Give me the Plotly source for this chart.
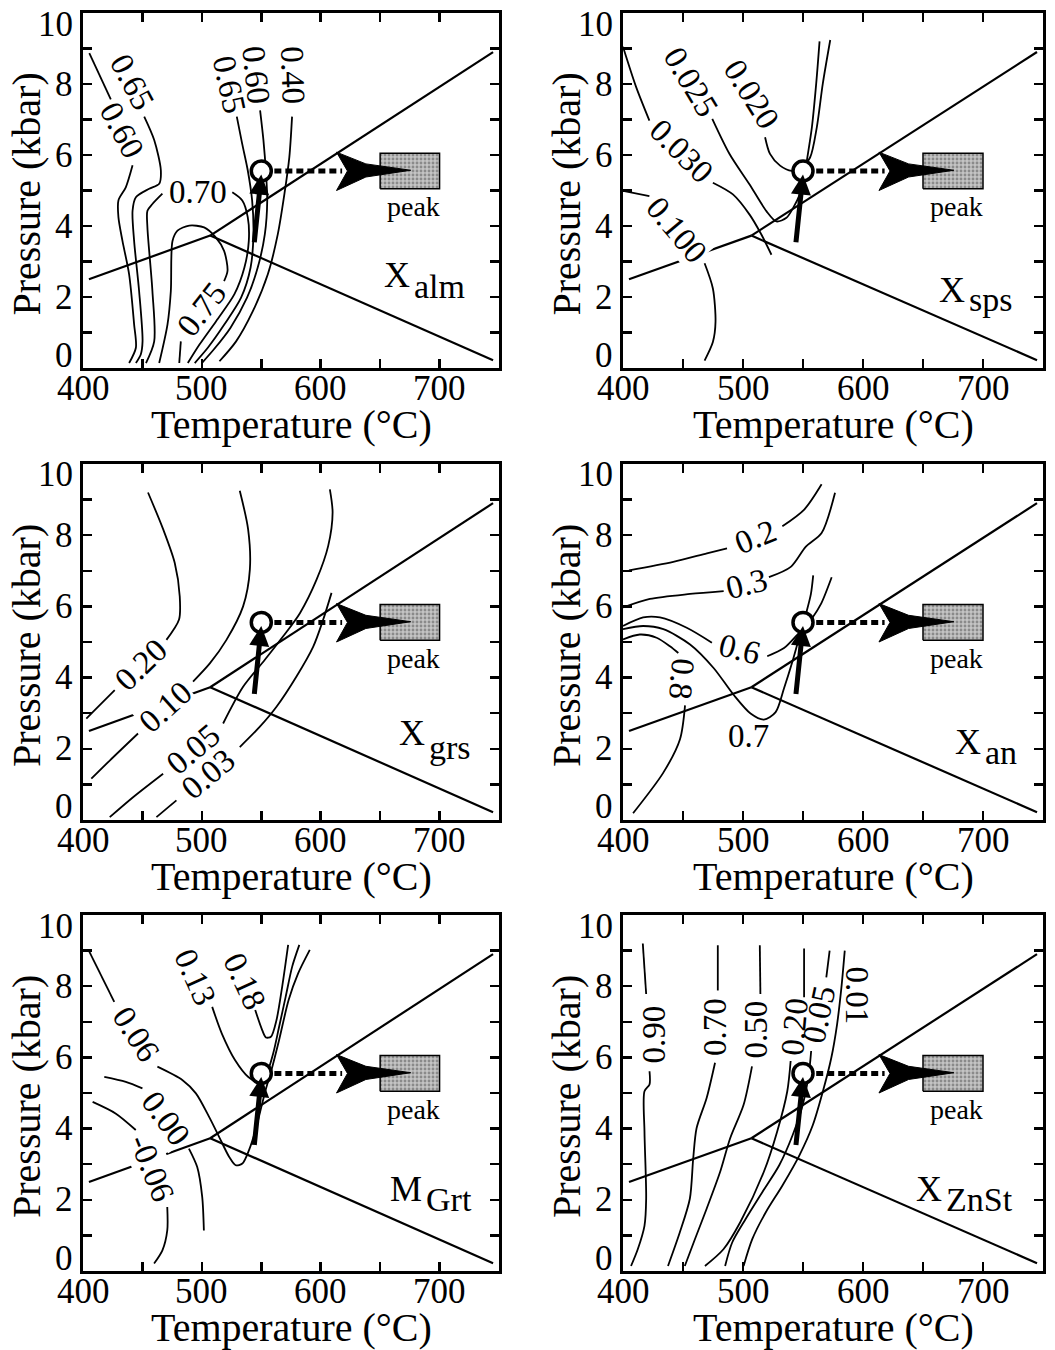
import plotly.graph_objects as go

FONT = "Liberation Serif"
W, H = 1055, 1350

# ---------------- shared reaction lines (T in degC, P in kbar) ----------------
rxn_low_t = [405, 507]
rxn_low_p = [2.5, 3.73]
rxn_up_t = [507, 745]
rxn_up_p = [3.73, 8.9]
rxn_down_t = [507, 745]
rxn_down_p = [3.73, 0.22]

# peak / path symbols
circle_t, circle_p = 550, 5.55
uparrow_tail = (544, 3.5)
uparrow_head = (550, 5.45)
dotted_t = [561, 618]
dotted_p = [5.55, 5.55]
head_t = [613.3, 638.0, 675.7, 638.0, 613.3, 622.5, 613.3]
head_p = [6.08, 5.75, 5.57, 5.38, 5.0, 5.55, 6.08]
peakbox_t = [650, 700, 700, 650, 650]
peakbox_p = [5.05, 5.05, 6.05, 6.05, 5.05]
peak_label = ("peak", 678, 4.55)

# ---------------- Panel 1: X_alm ----------------
alm_060a_t = [405.3, 423.4, None, 441.7, 436.0, 429.8, 429.8, 433.2, 438.8, 443.0, 444.5, 438.8]
alm_060a_p = [8.87, 7.57, None, 5.71, 5.09, 4.72, 4.25, 3.58, 2.64, 1.23, 0.57, 0.14]
alm_065a_t = [451.5, 459.9, 465.5, 464.1, 455.7, 444.5, 441.7, 443.0, 447.2, 450.1, 448.6, 444.5]
alm_065a_p = [7.08, 6.42, 5.57, 5.19, 5.05, 4.81, 4.43, 3.58, 2.17, 0.75, 0.38, 0.14]
alm_070_t = [453.0, 459.9, 458.4, 454.2, 454.2, 458.4, 466.8, None, 525.6, 534.0, 538.6, 539.5, 535.8, 527.4, 512.0, 498.0, 488.2]
alm_070_p = [0.14, 0.75, 2.17, 3.96, 4.43, 4.62, 4.91, None, 4.95, 4.72, 4.25, 3.58, 2.83, 2.08, 1.32, 0.66, 0.14]
alm_075_t = [464.1, 471.1, 473.9, 475.3, 479.5, 489.3, 501.9, 511.7, 518.7, 521.6, 518.7, None, 482.3, 481.0]
alm_075_p = [0.14, 1.23, 2.17, 3.58, 3.87, 4.01, 3.96, 3.68, 3.30, 2.74, 2.45, None, 0.75, 0.14]
alm_065b_t = [529.4, 533.9, 538.6, 542.3, 543.4, 541.0, 533.0, 519.0, 505.0, 494.0]
alm_065b_p = [7.08, 6.32, 5.57, 4.72, 3.77, 2.83, 1.98, 1.23, 0.57, 0.14]
alm_060b_t = [549.0, 551.8, 554.0, 555.0, 553.0, 547.0, 538.0, 524.0, 510.0, 500.0]
alm_060b_p = [7.26, 6.42, 5.47, 4.72, 3.77, 2.83, 1.98, 1.13, 0.52, 0.14]
alm_040_t = [575.9, 573.6, 569.5, 563.9, 555.5, 542.9, 528.8, 514.8]
alm_040_p = [7.08, 5.94, 4.91, 3.77, 2.64, 1.60, 0.75, 0.19]
alm_labels = [("0.60", 432.7, 6.70, 62, False), ("0.65", 441.7, 8.07, 62, False),
              ("0.70", 496.4, 4.95, 0, False), ("0.75", 500.0, 1.65, -52, False),
              ("0.65", 523.2, 7.97, 78, False), ("0.60", 545.6, 8.25, 84, False),
              ("0.40", 576.5, 8.25, 88, False)]

# ---------------- Panel 2: X_sps ----------------
sps_0100_t = [400.0, 422.0, None, 468.0, 474.9, 477.1, 474.9, 468.0]
sps_0100_p = [4.99, 4.84, None, 2.95, 2.24, 1.30, 0.73, 0.21]
sps_0030_t = [400.0, 410.9, 422.0, None, 474.9, 491.6, 505.5, 515.3, 523.7]
sps_0030_p = [9.05, 7.92, 6.97, None, 5.22, 4.89, 4.32, 3.76, 3.19]
sps_0025_t = [474.4, 488.8, 505.5, 519.5, 527.8, 536.2, 541.8, 547.3, 551.5, 553.2, 557.4, 561.0, 563.8]
sps_0025_p = [7.02, 6.03, 5.17, 4.42, 4.13, 4.23, 4.51, 4.89, 5.46, 5.84, 6.78, 8.01, 9.20]
sps_0020_t = [518.4, 522.5, 530.9, 540.6, 547.6, 555.9, 561.5, 566.5, 572.7]
sps_0020_p = [6.50, 6.03, 5.70, 5.55, 5.60, 5.93, 6.78, 8.01, 9.24]
sps_labels = [("0.030", 448.5, 6.10, 45, False), ("0.025", 456.8, 8.06, 59, False),
              ("0.020", 507.2, 7.73, 58, False), ("0.100", 445.0, 3.90, 50, True)]

# ---------------- Panel 3: X_grs ----------------
grs_020_t = [454.7, 467.4, 477.2, 481.4, 480.8, 470.2, None, 426.7, 408.4, 402.8]
grs_020_p = [9.20, 8.17, 7.22, 6.28, 5.63, 5.06, None, 3.65, 3.04, 2.85]
grs_010_t = [531.9, 538.9, 540.4, 534.7, 520.7, 506.7, 492.6, None, 446.3, 422.5, 407.0]
grs_010_p = [9.25, 8.17, 7.04, 6.00, 5.06, 4.40, 3.89, None, 2.43, 1.67, 1.16]
grs_005_t = [607.7, 610.0, 606.3, 596.5, 582.5, 568.4, 553.0, 534.7, 517.9, None, 467.4, 442.1, 422.5]
grs_005_p = [9.29, 8.64, 7.70, 6.75, 5.81, 5.16, 4.50, 3.74, 2.71, None, 1.30, 0.64, 0.08]
grs_003_t = [609.1, 602.1, 593.7, 579.6, 562.8, 548.8, 531.9, None, 478.6, 461.8]
grs_003_p = [6.38, 5.63, 4.87, 4.03, 3.18, 2.62, 2.05, None, 0.55, 0.08]
grs_labels = [("0.20", 448.5, 4.36, -44, False), ("0.10", 469.5, 3.16, -42, True),
              ("0.05", 492.7, 2.00, -40, False), ("0.03", 505.3, 1.30, -40, False)]

# ---------------- Panel 4: X_an ----------------
an_02_t = [405.0, 441.9, 469.9, 486.7, None, 532.8, 551.0, 565.5]
an_02_p = [7.01, 7.25, 7.49, 7.63, None, 8.25, 8.72, 9.43]
an_03_t = [400.0, 422.4, 455.9, 483.9, None, 521.6, 539.8, 552.4, 565.5, 576.7]
an_03_p = [5.97, 6.21, 6.35, 6.43, None, 6.82, 7.11, 7.68, 8.06, 9.19]
an_06_t = [400.0, 416.8, 430.8, 453.1, 474.1, None, 520.2, 534.2, 545.4, 551.0, 558.0, 565.0, 573.9]
an_06_p = [5.45, 5.69, 5.69, 5.40, 4.98, None, 4.60, 4.83, 5.21, 5.40, 5.69, 6.07, 6.82]
an_07_t = [400.0, 416.8, 433.6, 455.9, 475.5, 492.3, 506.3, 517.4, 527.2, 534.2, 541.2, 546.8, 552.4, 556.6, 558.5]
an_07_p = [5.36, 5.45, 5.36, 4.93, 4.27, 3.51, 2.99, 2.82, 3.03, 3.70, 4.45, 5.12, 5.78, 6.35, 6.87]
an_08_t = [400.0, 414.0, 428.0, 439.1, 446.1, None, 451.7, 447.5, 433.6, 408.4]
an_08_p = [5.07, 5.21, 5.12, 4.88, 4.69, None, 3.22, 2.27, 1.33, 0.19]
an_labels = [("0.2", 510.0, 7.94, -22, False), ("0.3", 502.8, 6.63, -14, False),
             ("0.6", 497.0, 4.79, 14, False), ("0.7", 504.9, 2.37, 0, False),
             ("0.8", 448.9, 3.96, 95, False)]

# ---------------- Panel 5: M_Grt ----------------
grt_006_t = [405.3, 426.3, None, 462.6, 483.8, 495.0, 506.1, 514.5, 522.9, 528.5, 534.1, 539.6, 545.2, 549.4, 553.6, 558.5, 565.0, 573.0, 581.0, 590.8]
grt_006_p = [8.97, 7.56, None, 5.74, 5.36, 4.99, 4.33, 3.77, 3.21, 2.97, 3.02, 3.39, 3.96, 4.52, 5.08, 5.64, 6.49, 7.61, 8.36, 9.02]
grt_013_t = [508.7, 516.8, 528.0, 539.1, 547.5, 554.5, 560.0, 565.0, 570.5, 576.0, 582.0]
grt_013_p = [7.42, 6.67, 5.92, 5.45, 5.31, 5.55, 6.11, 6.86, 7.70, 8.55, 9.16]
grt_018_t = [544.9, 550.3, 553.9, 558.1, 562.8, 567.6, 572.6]
grt_018_p = [7.33, 6.81, 6.56, 6.58, 7.05, 7.99, 9.16]
grt_000_t = [417.9, 436.0, 450.0, None, 489.1, 496.1, 500.3, 501.7]
grt_000_p = [5.45, 5.31, 5.13, None, 3.44, 2.92, 2.08, 1.14]
grt_m006_t = [408.1, 427.7, 444.4, None, 470.9, 470.9, 466.8, 459.8]
grt_m006_p = [4.75, 4.42, 3.96, None, 1.80, 1.14, 0.58, 0.21]
grt_labels = [("0.06", 444.5, 6.65, 57, False), ("0.00", 469.5, 4.29, 54, True),
              ("-0.06", 457.7, 2.88, 68, True), ("0.13", 494.7, 8.27, 66, False),
              ("0.18", 536.6, 8.13, 65, False)]

# ---------------- Panel 6: X_ZnSt ----------------
zn_090_t = [416.5, 419.3, None, 422.1, 422.1, 417.9, 417.9, 419.3, 417.9, 412.3, 406.7]
zn_090_p = [9.20, 7.78, None, 5.61, 5.24, 5.05, 3.92, 2.03, 1.27, 0.61, 0.14]
zn_070_t = [479.0, 479.0, None, 476.7, 469.7, 461.3, 458.5, 455.7, 447.3, 437.5]
zn_070_p = [9.15, 7.88, None, 5.85, 4.86, 4.01, 3.16, 2.03, 1.08, 0.14]
zn_050_t = [514.0, 514.5, None, 507.5, 500.5, 489.3, 480.9, 469.7, 460.0, 451.5]
zn_050_p = [9.15, 7.78, None, 5.75, 4.67, 3.73, 2.78, 1.75, 0.90, 0.14]
zn_020_t = [550.9, 550.9, None, 539.7, 536.9, 528.5, 517.3, 497.7, 483.7, 468.3]
zn_020_p = [9.06, 7.69, None, 5.90, 5.05, 3.92, 2.78, 1.37, 0.61, 0.14]
zn_005_t = [572.2, 569.4, None, 556.8, 554.8, 549.8, 541.4, 530.2, 516.2, 502.2, 491.0, 485.1]
zn_005_p = [9.00, 8.25, None, 6.18, 5.52, 4.67, 3.82, 2.97, 2.22, 1.46, 0.80, 0.14]
zn_001_t = [584.8, 582.0, 578.4, 573.6, 566.6, 558.2, 547.0, 533.0, 519.0, 507.8, 500.5]
zn_001_p = [9.00, 7.96, 6.93, 5.99, 5.05, 4.10, 3.25, 2.41, 1.65, 0.90, 0.14]
zn_labels = [("0.90", 426.0, 6.65, -90, False), ("0.70", 476.5, 6.85, -90, False),
             ("0.50", 510.5, 6.77, -90, False), ("0.20", 543.0, 6.85, -85, False),
             ("0.05", 563.0, 7.20, -78, False), ("0.01", 595.0, 7.74, 90, False)]

# ---------------- ticks ----------------
x_tickvals = [400, 450, 500, 550, 600, 650, 700]
x_ticktext = ["400", "", "500", "", "600", "", "700"]
y_tickvals = list(range(0, 11))
y_ticktext = ["0", "", "2", "", "4", "", "6", "", "8", "", "10"]

panels = [
    dict(curves=[(alm_060a_t, alm_060a_p), (alm_065a_t, alm_065a_p), (alm_070_t, alm_070_p),
                 (alm_075_t, alm_075_p), (alm_065b_t, alm_065b_p), (alm_060b_t, alm_060b_p),
                 (alm_040_t, alm_040_p)],
         labels=alm_labels, main="X", sub="alm", tag=(677.0, 2.62, 2.30)),
    dict(curves=[(sps_0100_t, sps_0100_p), (sps_0030_t, sps_0030_p), (sps_0025_t, sps_0025_p),
                 (sps_0020_t, sps_0020_p)],
         labels=sps_labels, main="X", sub="sps", tag=(686.9, 2.20, 1.92)),
    dict(curves=[(grs_020_t, grs_020_p), (grs_010_t, grs_010_p), (grs_005_t, grs_005_p),
                 (grs_003_t, grs_003_p)],
         labels=grs_labels, main="X", sub="grs", tag=(689.7, 2.43, 2.05)),
    dict(curves=[(an_02_t, an_02_p), (an_03_t, an_03_p), (an_06_t, an_06_p), (an_07_t, an_07_p),
                 (an_08_t, an_08_p)],
         labels=an_labels, main="X", sub="an", tag=(699.7, 2.19, 1.90)),
    dict(curves=[(grt_006_t, grt_006_p), (grt_013_t, grt_013_p), (grt_018_t, grt_018_p),
                 (grt_000_t, grt_000_p), (grt_m006_t, grt_m006_p)],
         labels=grt_labels, main="M", sub="Grt", tag=(687.1, 2.31, 2.02)),
    dict(curves=[(zn_090_t, zn_090_p), (zn_070_t, zn_070_p), (zn_050_t, zn_050_p),
                 (zn_020_t, zn_020_p), (zn_005_t, zn_005_p), (zn_001_t, zn_001_p)],
         labels=zn_labels, main="X", sub="ZnSt", tag=(667.4, 2.31, 2.02)),
]

# plot boxes in page pixels (left, right) and (top, bottom)
cols_px = [(83, 499), (623, 1043)]
rows_px = [(13, 368), (464, 820), (915, 1271)]

fig = go.Figure()
annotations = []
layout_axes = {}

def txt(size):
    return dict(family=FONT, size=size, color="black")

for k, pan in enumerate(panels):
    r, c = divmod(k, 2)
    xa = "x" if k == 0 else f"x{k+1}"
    ya = "y" if k == 0 else f"y{k+1}"
    common = dict(xaxis=xa, yaxis=ya, showlegend=False, hoverinfo="skip")

    for tt, pp in [(rxn_low_t, rxn_low_p), (rxn_up_t, rxn_up_p), (rxn_down_t, rxn_down_p)]:
        fig.add_trace(go.Scatter(x=tt, y=pp, mode="lines",
                                 line=dict(color="black", width=2.2), **common))
    for tt, pp in pan["curves"]:
        fig.add_trace(go.Scatter(x=tt, y=pp, mode="lines", connectgaps=False,
                                 line=dict(color="black", width=1.8, shape="spline", smoothing=0.8),
                                 **common))
    fig.add_trace(go.Scatter(x=peakbox_t, y=peakbox_p, mode="lines", fill="toself",
                             fillcolor="#bdbdbd",
                             fillpattern=dict(shape=".", fgcolor="#505050", bgcolor="#c4c4c4",
                                              size=4, solidity=0.4),
                             line=dict(color="black", width=1.5), **common))
    fig.add_trace(go.Scatter(x=dotted_t, y=dotted_p, mode="lines",
                             line=dict(color="black", width=5, dash="7px,4px"), **common))
    fig.add_trace(go.Scatter(x=head_t, y=head_p, mode="lines", fill="toself",
                             fillcolor="black", line=dict(color="black", width=1), **common))
    fig.add_trace(go.Scatter(x=[circle_t], y=[circle_p], mode="markers",
                             marker=dict(symbol="circle", size=20, color="white",
                                         line=dict(color="black", width=3.5)), **common))

    annotations.append(dict(x=uparrow_head[0], y=uparrow_head[1], ax=uparrow_tail[0], ay=uparrow_tail[1],
                            xref=xa, yref=ya, axref=xa, ayref=ya, text="", showarrow=True,
                            arrowhead=2, arrowsize=0.8, arrowwidth=5, arrowcolor="black", standoff=0))
    annotations.append(dict(x=peak_label[1], y=peak_label[2], xref=xa, yref=ya, text=peak_label[0],
                            showarrow=False, font=txt(28), xanchor="center", yanchor="middle"))
    for text, lt, lp, ang, bg in pan["labels"]:
        annotations.append(dict(x=lt, y=lp, xref=xa, yref=ya, text=text, showarrow=False,
                                textangle=ang, font=txt(33), xanchor="center", yanchor="middle",
                                bgcolor="white" if bg else "rgba(0,0,0,0)", borderpad=0))
    ts, pm, ps = pan["tag"]
    annotations.append(dict(x=ts, y=pm, xref=xa, yref=ya, text=pan["main"], showarrow=False,
                            font=txt(36), xanchor="right", yanchor="middle"))
    annotations.append(dict(x=ts, y=ps, xref=xa, yref=ya, text=pan["sub"], showarrow=False,
                            font=txt(34), xanchor="left", yanchor="middle"))

    # tick labels placed from the axis scale
    for v, s in zip(x_tickvals, x_ticktext):
        if s:
            annotations.append(dict(x=v, y=0, xref=xa, yref=f"{ya} domain", text=s, showarrow=False,
                                    font=txt(35), xanchor="center", yanchor="middle", yshift=-20))
    for v, s in zip(y_tickvals, y_ticktext):
        if s:
            edge = -11 if v == 10 else (13 if v == 0 else 0)
            annotations.append(dict(x=0, y=v, xref=f"{xa} domain", yref=ya, text=s, showarrow=False,
                                    font=txt(35), xanchor="right", yanchor="middle",
                                    xshift=-8, yshift=edge))
    # axis titles
    annotations.append(dict(x=0.5, y=0, xref=f"{xa} domain", yref=f"{ya} domain",
                            text="Temperature (°C)", showarrow=False, font=txt(40),
                            xanchor="center", yanchor="middle", yshift=-56))
    annotations.append(dict(x=0, y=0.5, xref=f"{xa} domain", yref=f"{ya} domain",
                            text="Pressure (kbar)", showarrow=False, font=txt(40), textangle=-90,
                            xanchor="center", yanchor="middle", xshift=-57, yshift=-4))

    x0, x1 = cols_px[c]
    y0, y1 = rows_px[r]
    axstyle = dict(ticks="inside", ticklen=9, tickwidth=2.5, tickcolor="black",
                   showline=True, linewidth=3, linecolor="black", mirror="ticks",
                   showgrid=False, zeroline=False, showticklabels=False,
                   automargin=False, fixedrange=True)
    layout_axes["xaxis" if k == 0 else f"xaxis{k+1}"] = dict(
        domain=[x0 / W, x1 / W], anchor=ya, range=[400, 750],
        tickmode="array", tickvals=x_tickvals, **axstyle)
    layout_axes["yaxis" if k == 0 else f"yaxis{k+1}"] = dict(
        domain=[1 - y1 / H, 1 - y0 / H], anchor=xa, range=[0, 10],
        tickmode="array", tickvals=y_tickvals, **axstyle)

fig.update_layout(width=W, height=H,
                  margin=dict(l=0, r=0, t=0, b=0, autoexpand=False),
                  paper_bgcolor="white", plot_bgcolor="white", hovermode=False,
                  showlegend=False, annotations=annotations, **layout_axes)

fig.write_html("out.html", config={"displayModeBar": False, "staticPlot": True},
               post_script="document.body.style.margin='0px';")
